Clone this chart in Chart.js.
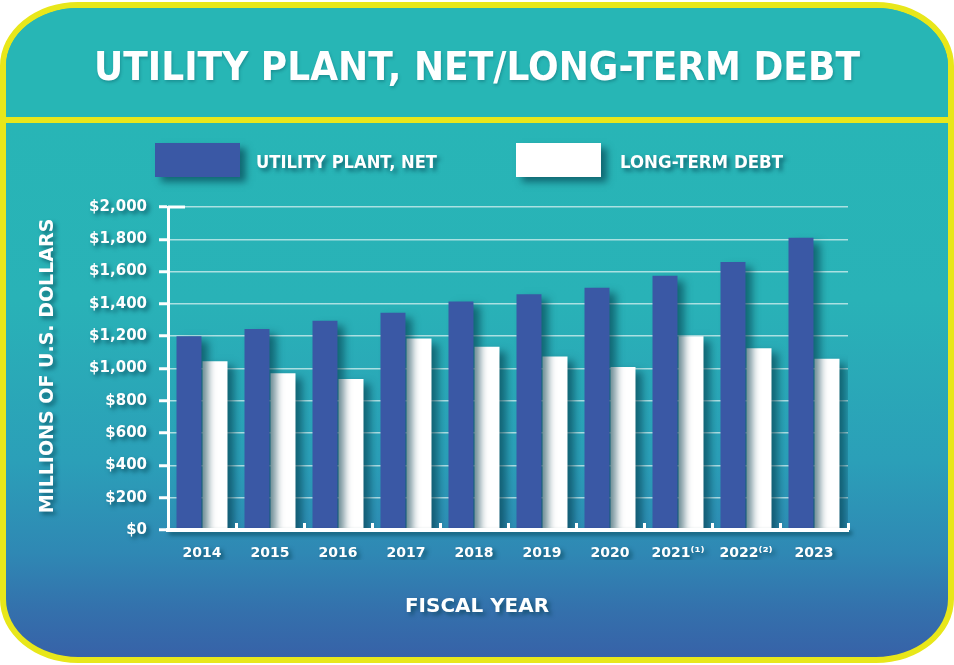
<!DOCTYPE html>
<html>
<head>
<meta charset="utf-8">
<script src="https://cdn.jsdelivr.net/npm/chart.js@4/dist/chart.umd.min.js"></script>
<style>
  html, body { margin: 0; padding: 0; background: #ffffff; }
  #wrap { position: relative; width: 954px; height: 665px; overflow: hidden; }
  #card {
    position: absolute; left: 0; top: 2px; width: 954px; height: 661px;
    box-sizing: border-box; border: 6px solid #e8e71a;
    border-radius: 78px / 64px; overflow: hidden;
    background: linear-gradient(to bottom, #28b6b6 0%, #28b5b6 18%, #29b2b7 45%, #2b9fb8 70%, #2f88b4 84%, #3470ac 93%, #3762a8 100%);
  }
  #header {
    position: absolute; left: 0; top: 0; right: 0; height: 109px;
    background: #27b6b5; border-bottom: 6px solid #e8e71a;
  }
  canvas { position: absolute; left: 0; top: 0; }
</style>
</head>
<body>
<div id="wrap">
  <div id="card"><div id="header"></div></div>
  <canvas id="c" width="954" height="665"></canvas>
</div>
<script>
const categories = ['2014', '2015', '2016', '2017', '2018', '2019', '2020', '2021\u207D\u00B9\u207E', '2022\u207D\u00B2\u207E', '2023'];
const utilityPlantNet = [1200, 1245, 1295, 1345, 1415, 1460, 1500, 1575, 1660, 1810];
const longTermDebt = [1045, 970, 935, 1185, 1135, 1075, 1010, 1200, 1125, 1060];
const seriesNames = ['UTILITY PLANT, NET', 'LONG-TERM DEBT'];
const chartTitle = 'UTILITY PLANT, NET/LONG-TERM DEBT';
const yAxisTitle = 'MILLIONS OF U.S. DOLLARS';
const xAxisTitle = 'FISCAL YEAR';

const BLUE = '#3a58a5';
const WHITE = '#ffffff';
const FONT = '"DejaVu Sans", sans-serif';

function setShadow(ctx, color, dx, dy, blur) {
  ctx.shadowColor = color; ctx.shadowOffsetX = dx; ctx.shadowOffsetY = dy; ctx.shadowBlur = blur;
}
function clearShadow(ctx) {
  ctx.shadowColor = 'rgba(0,0,0,0)'; ctx.shadowOffsetX = 0; ctx.shadowOffsetY = 0; ctx.shadowBlur = 0;
}

const decor = {
  id: 'decor',
  beforeDatasetsDraw(chart) {
    const ctx = chart.ctx;
    ctx.save();
    setShadow(ctx, 'rgba(0,55,70,0.6)', 7, 5, 8);
  },
  afterDatasetsDraw(chart) {
    const ctx = chart.ctx;
    ctx.restore();
    setShadow(ctx, 'rgba(0,60,75,0.65)', 3, 3, 4);
  },
  afterDraw(chart) {
    const ctx = chart.ctx;
    clearShadow(ctx);
    const ca = chart.chartArea;
    const xs = chart.scales.x, ys = chart.scales.y;
    ctx.save();

    // x-axis upward ticks at category boundaries
    const step = xs.getPixelForValue(1) - xs.getPixelForValue(0);
    ctx.strokeStyle = '#ffffff';
    ctx.lineWidth = 3;
    for (let i = 1; i <= categories.length; i++) {
      const bx = Math.round(xs.getPixelForValue(i) - step / 2) + 0.5;
      ctx.beginPath();
      ctx.moveTo(bx, ca.bottom);
      ctx.lineTo(bx, ca.bottom - 7);
      ctx.stroke();
    }
    // top stub at max tick
    const yTop = ys.getPixelForValue(2000);
    ctx.beginPath();
    ctx.moveTo(ca.left, yTop);
    ctx.lineTo(ca.left + 17, yTop);
    ctx.stroke();

    // Title
    ctx.fillStyle = '#ffffff';
    ctx.textAlign = 'center';
    ctx.textBaseline = 'alphabetic';
    setShadow(ctx, 'rgba(0,70,80,0.3)', 1, 2, 3);
    ctx.font = 'bold 39px ' + FONT;
    ctx.fillText(chartTitle, 477, 80, 766);

    // Legend
    const boxes = [
      { x: 155, color: BLUE, tx: 256, tw: 181, label: seriesNames[0] },
      { x: 516, color: WHITE, tx: 620, tw: 163, label: seriesNames[1] }
    ];
    boxes.forEach(b => {
      setShadow(ctx, 'rgba(0,55,70,0.6)', 6, 5, 7);
      ctx.fillStyle = b.color;
      ctx.fillRect(b.x, 143, 85, 34);
      setShadow(ctx, 'rgba(0,60,75,0.65)', 3, 3, 4);
      ctx.fillStyle = '#ffffff';
      ctx.textAlign = 'left';
      ctx.textBaseline = 'middle';
      ctx.font = 'bold 17px ' + FONT;
      ctx.fillText(b.label, b.tx, 164, b.tw);
    });

    // Axis titles
    setShadow(ctx, 'rgba(0,60,75,0.6)', 3, 3, 4);
    ctx.fillStyle = '#ffffff';
    ctx.textAlign = 'center';
    ctx.textBaseline = 'middle';
    ctx.font = 'bold 20px ' + FONT;
    ctx.fillText(xAxisTitle, 477, 607, 144);

    ctx.save();
    ctx.translate(48, 366);
    ctx.rotate(-Math.PI / 2);
    ctx.font = 'bold 19px ' + FONT;
    ctx.fillText(yAxisTitle, 0, 0, 306);
    ctx.restore();

    ctx.restore();
    clearShadow(ctx);
  }
};

new Chart(document.getElementById('c'), {
  type: 'bar',
  data: {
    labels: categories,
    datasets: [
      { label: seriesNames[0], data: utilityPlantNet, backgroundColor: BLUE, borderWidth: 0 },
      { label: seriesNames[1], data: longTermDebt, backgroundColor: WHITE, borderWidth: 0 }
    ]
  },
  options: {
    responsive: false,
    animation: false,
    events: [],
    layout: { padding: { left: 0, right: 106, top: 207, bottom: 105 } },
    datasets: { bar: { categoryPercentage: 0.765, barPercentage: 0.96 } },
    plugins: { legend: { display: false }, title: { display: false }, tooltip: { enabled: false } },
    scales: {
      x: {
        afterFit(s) { s.height = 30; },
        grid: { display: false },
        border: { display: true, color: '#ffffff', width: 4, z: 1 },
        ticks: { color: '#ffffff', font: { family: FONT, weight: 'bold', size: 14 }, padding: 7, z: 1, maxRotation: 0, autoSkip: false }
      },
      y: {
        min: 0, max: 2000,
        afterFit(s) { s.width = 168; },
        grid: { color: 'rgba(215,240,240,0.75)', lineWidth: 1.5, tickColor: '#ffffff', tickWidth: 3, tickLength: 9, drawTicks: true },
        border: { display: true, color: '#ffffff', width: 3 },
        ticks: {
          stepSize: 200, color: '#ffffff', padding: 12, z: 1,
          font: { family: FONT, weight: 'bold', size: 15 },
          callback: v => '$' + v.toLocaleString('en-US')
        }
      }
    }
  },
  plugins: [decor]
});
</script>
</body>
</html>
